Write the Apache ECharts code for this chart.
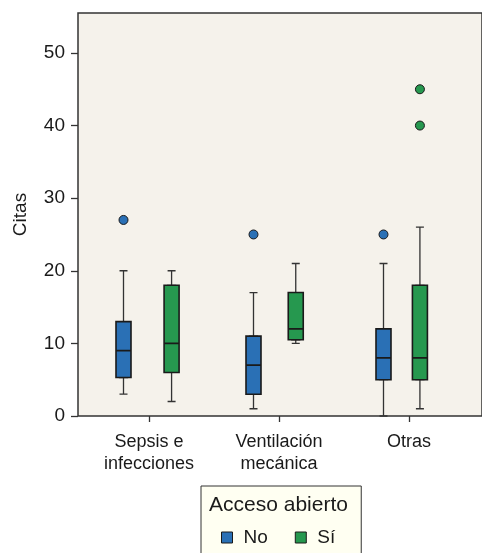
<!DOCTYPE html>
<html>
<head>
<meta charset="utf-8">
<script src="https://cdn.jsdelivr.net/npm/echarts@6/dist/echarts.min.js"></script>
<style>
html,body{margin:0;padding:0;background:#ffffff;}
#chart{width:482px;height:553px;}
</style>
</head>
<body>
<div id="chart"></div>
<script>
// ---- data ----
var categories = ['Sepsis e\ninfecciones', 'Ventilación\nmecánica', 'Otras'];
var seriesNames = ['No', 'Sí'];
// [min, Q1, median, Q3, max]
var noStats = [[3, 5.3, 9, 13, 20], [1, 3, 7, 11, 17], [0, 5, 8, 12, 21]];
var siStats = [[2, 6, 10, 18, 20], [10, 10.5, 12, 17, 21], [1, 5, 8, 18, 26]];
// [categoryIndex, value]
var noOutliers = [[0, 27], [1, 25], [2, 25]];
var siOutliers = [[2, 40], [2, 45]];
var yTicks = [0, 10, 20, 30, 40, 50];
var yMax = 55.5;

// ---- styles ----
var FONT = "'Liberation Sans', Arial, Helvetica, sans-serif";
var TXT = '#1a1a1a';
var BLUE = '#2a70b5';
var GREEN = '#26984f';
var EDGE = '#1a1a1a';
var bandShift = 25.5;

function boxOnly(stats) {
  return stats.map(function (s) { return [s[1], s[1], s[2], s[3], s[3]]; });
}

var chart = echarts.init(document.getElementById('chart'), null, {renderer: 'canvas'});

var hiddenX = function (gridIndex, pos) {
  return {type: 'category', gridIndex: gridIndex, data: categories, show: false, position: pos};
};
var hiddenY = function (gridIndex) {
  return {type: 'value', gridIndex: gridIndex, min: 0, max: yMax, show: false, splitLine: {show: false}};
};

var option = {
  animation: false,
  backgroundColor: '#ffffff',
  textStyle: {fontFamily: FONT},
  grid: [
    // frame / panel
    {left: 78, right: -30, top: 13, bottom: 137, show: true, backgroundColor: '#f5f2eb', borderColor: '#333333', borderWidth: 1.5, z: 0},
    // main axes
    {left: 84, width: 390, top: 13, bottom: 137},
    // "No" boxes
    {left: 84 - bandShift, width: 390, top: 13, bottom: 137},
    // "Sí" boxes
    {left: 84 + bandShift, width: 390, top: 13, bottom: 137}
  ],
  title: {
    text: 'Acceso abierto',
    left: 209, top: 495, padding: 0,
    textStyle: {fontFamily: FONT, fontSize: 21, fontWeight: 'normal', color: TXT},
    z: 10
  },
  legend: {
    data: [
      {name: 'No', icon: 'rect', itemStyle: {color: BLUE, borderColor: EDGE, borderWidth: 1}},
      {name: 'Sí', icon: 'rect', itemStyle: {color: GREEN, borderColor: EDGE, borderWidth: 1}}
    ],
    left: 201, top: 486,
    orient: 'horizontal',
    padding: [42, 26, 30, 20],
    itemWidth: 11, itemHeight: 11, itemGap: 27,
    backgroundColor: '#fffff2',
    borderColor: '#333333', borderWidth: 1,
    borderRadius: 0,
    textStyle: {fontFamily: FONT, fontSize: 19, color: TXT, padding: [0, 0, 0, 6]},
    selectedMode: false
  },
  xAxis: [
    {type: 'category', gridIndex: 0, show: false, data: categories},
    {
      type: 'category', gridIndex: 1, data: categories, position: 'bottom',
      axisLine: {show: false},
      axisTick: {show: true, alignWithLabel: true, length: 6, lineStyle: {color: '#333333', width: 1.3}},
      axisLabel: {color: TXT, fontFamily: FONT, fontSize: 18, lineHeight: 22, margin: 15},
      splitLine: {show: false}
    },
    hiddenX(2, 'bottom'), hiddenX(2, 'top'),
    hiddenX(3, 'bottom'), hiddenX(3, 'top')
  ],
  yAxis: [
    {type: 'value', gridIndex: 0, show: false, min: 0, max: yMax, splitLine: {show: false}},
    {
      type: 'value', gridIndex: 1, min: 0, max: yMax, offset: 6,
      name: 'Citas', nameLocation: 'middle', nameGap: 48, nameRotate: 90,
      nameTextStyle: {fontFamily: FONT, fontSize: 19, color: TXT},
      axisLine: {show: false},
      axisTick: {show: true, length: 7, customValues: yTicks, lineStyle: {color: '#333333', width: 1.3}},
      axisLabel: {color: TXT, fontFamily: FONT, fontSize: 19, margin: 13, customValues: yTicks},
      splitLine: {show: false}
    },
    hiddenY(2), hiddenY(3)
  ],
  series: [
    // whiskers (narrow caps)
    {
      name: 'No-whisker', type: 'boxplot', xAxisIndex: 2, yAxisIndex: 2,
      data: noStats, boxWidth: [8, 8], z: 2,
      itemStyle: {color: BLUE, borderColor: '#333333', borderWidth: 1.3},
      emphasis: {disabled: true}
    },
    {
      name: 'Sí-whisker', type: 'boxplot', xAxisIndex: 4, yAxisIndex: 3,
      data: siStats, boxWidth: [8, 8], z: 2,
      itemStyle: {color: GREEN, borderColor: '#333333', borderWidth: 1.3},
      emphasis: {disabled: true}
    },
    // boxes
    {
      name: 'No', type: 'boxplot', xAxisIndex: 3, yAxisIndex: 2,
      data: boxOnly(noStats), boxWidth: [15, 15], z: 3,
      itemStyle: {color: BLUE, borderColor: EDGE, borderWidth: 1.6},
      emphasis: {disabled: true}
    },
    {
      name: 'Sí', type: 'boxplot', xAxisIndex: 5, yAxisIndex: 3,
      data: boxOnly(siStats), boxWidth: [15, 15], z: 3,
      itemStyle: {color: GREEN, borderColor: EDGE, borderWidth: 1.6},
      emphasis: {disabled: true}
    },
    // outliers
    {
      name: 'No-out', type: 'scatter', xAxisIndex: 2, yAxisIndex: 2,
      data: noOutliers, symbol: 'circle', symbolSize: 9, z: 4,
      itemStyle: {color: BLUE, borderColor: EDGE, borderWidth: 1, opacity: 1},
      emphasis: {disabled: true}
    },
    {
      name: 'Sí-out', type: 'scatter', xAxisIndex: 4, yAxisIndex: 3,
      data: siOutliers, symbol: 'circle', symbolSize: 9, z: 4,
      itemStyle: {color: GREEN, borderColor: EDGE, borderWidth: 1, opacity: 1},
      emphasis: {disabled: true}
    }
  ]
};
chart.setOption(option);
</script>
</body>
</html>
